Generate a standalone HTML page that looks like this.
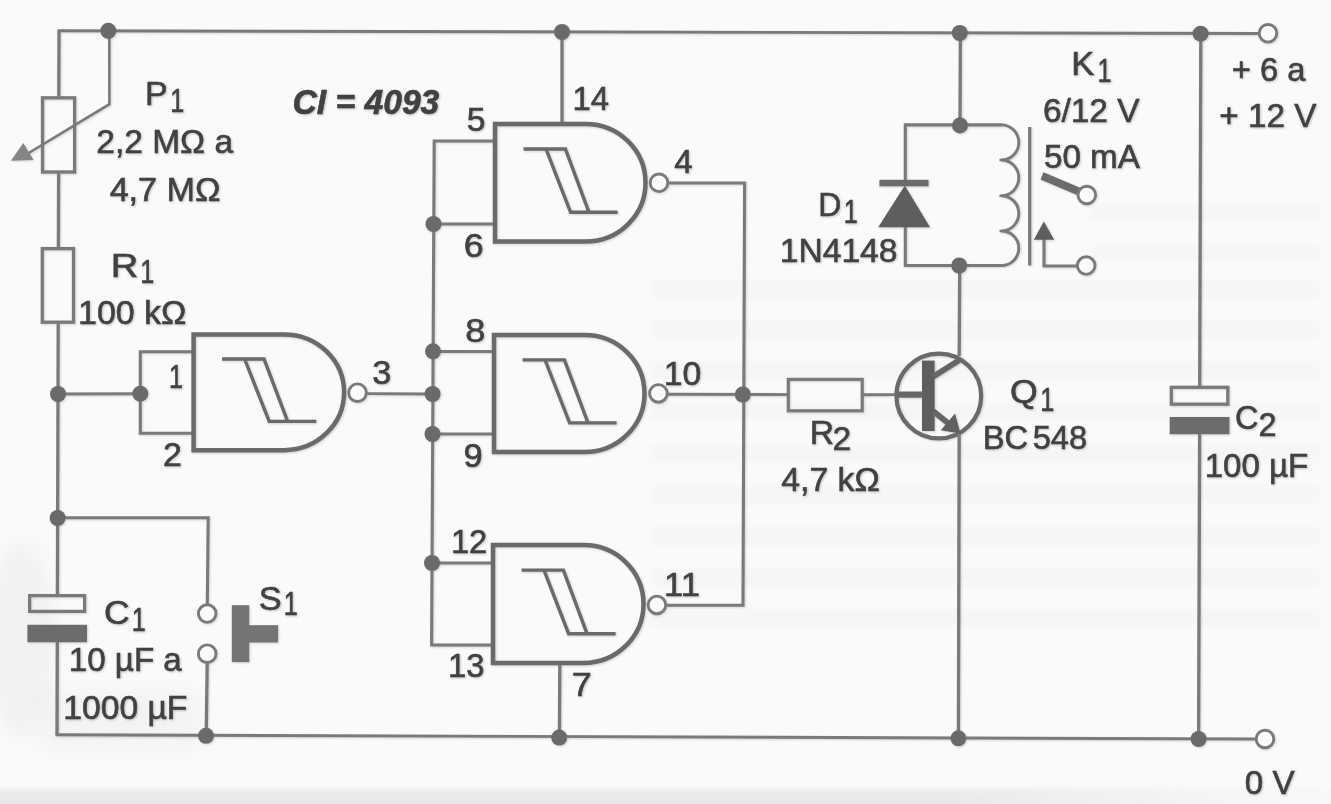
<!DOCTYPE html>
<html lang="pt">
<head>
<meta charset="utf-8">
<title>CI 4093 - Temporizador</title>
<style>
html,body{margin:0;padding:0;background:#fafaf9;}
body{width:1331px;height:804px;overflow:hidden;font-family:"Liberation Sans",sans-serif;}
svg{display:block}
</style>
</head>
<body>
<svg width="1331" height="804" viewBox="0 0 1331 804">
<rect x="0" y="0" width="1331" height="804" fill="#fafaf9"/>
<defs>
<linearGradient id="bs" x1="0" y1="0" x2="0" y2="1"><stop offset="0" stop-color="#ebebea" stop-opacity="0"/><stop offset="0.3" stop-color="#ebebea" stop-opacity="0.9"/><stop offset="1" stop-color="#e8e8e7" stop-opacity="1"/></linearGradient>
<linearGradient id="bf" x1="0" y1="0" x2="1" y2="0"><stop offset="0" stop-color="#fff" stop-opacity="1"/><stop offset="0.72" stop-color="#fff" stop-opacity="1"/><stop offset="0.95" stop-color="#fff" stop-opacity="0.15"/><stop offset="1" stop-color="#fff" stop-opacity="0.1"/></linearGradient>
<mask id="bm"><rect x="0" y="780" width="1331" height="24" fill="url(#bf)"/></mask>
<filter id="bl" x="-5%" y="-50%" width="110%" height="200%"><feGaussianBlur stdDeviation="5 3"/></filter>
<filter id="bl2" x="-50%" y="-20%" width="200%" height="140%"><feGaussianBlur stdDeviation="10"/></filter>
<filter id="sh" x="-2%" y="-2%" width="104%" height="104%"><feGaussianBlur stdDeviation="1.2"/><feOffset dx="0.6" dy="1.0"/></filter>
</defs>
<g fill="#000" opacity="0.014" filter="url(#bl)"><rect x="650" y="280" width="670" height="18"/><rect x="650" y="320" width="670" height="18"/><rect x="650" y="361" width="670" height="18"/><rect x="650" y="402" width="670" height="18"/><rect x="650" y="445" width="670" height="18"/><rect x="650" y="486" width="670" height="18"/><rect x="650" y="527" width="670" height="18"/><rect x="650" y="568" width="670" height="18"/><rect x="650" y="609" width="670" height="18"/><rect x="1090" y="205" width="230" height="16"/><rect x="1090" y="246" width="230" height="16"/></g>
<ellipse cx="22" cy="640" rx="34" ry="100" fill="#000" opacity="0.032" filter="url(#bl2)"/>
<rect x="40" y="690" width="160" height="60" fill="#000" opacity="0.025" filter="url(#bl2)"/>
<rect x="0" y="785" width="1331" height="19" fill="url(#bs)" mask="url(#bm)"/>
<g filter="url(#sh)" opacity="0.30"><use href="#art"/></g>
<g id="art">
<line x1="57.6" y1="30.7" x2="1259.0" y2="33.5" stroke="#7a7a7a" stroke-width="2.9" stroke-linecap="butt"/>
<line x1="55.6" y1="734.8" x2="1256.0" y2="739.0" stroke="#7a7a7a" stroke-width="2.9" stroke-linecap="butt"/>
<line x1="59.0" y1="30.7" x2="58.8" y2="96.5" stroke="#7a7a7a" stroke-width="3.3" stroke-linecap="butt"/>
<line x1="58.6" y1="173.0" x2="58.4" y2="247.5" stroke="#7a7a7a" stroke-width="3.3" stroke-linecap="butt"/>
<line x1="58.2" y1="323.5" x2="57.4" y2="594.5" stroke="#7a7a7a" stroke-width="3.3" stroke-linecap="butt"/>
<line x1="57.3" y1="641.0" x2="57.0" y2="734.8" stroke="#7a7a7a" stroke-width="3.3" stroke-linecap="butt"/>
<rect x="42.5" y="97.8" width="32.1" height="74.2" fill="none" stroke="#7a7a7a" stroke-width="3.3"/>
<rect x="42.3" y="248.6" width="31.2" height="73.6" fill="none" stroke="#7a7a7a" stroke-width="3.3"/>
<polyline points="109.3,30.8 109.4,104.2 27.0,154.0" fill="none" stroke="#7a7a7a" stroke-width="2.6" stroke-linejoin="miter"/>
<polygon points="10.9,160.7 23.3,142.9 33.5,160.0" fill="#858585"/>
<rect x="29.6" y="595.6" width="55.0" height="15.8" fill="none" stroke="#7a7a7a" stroke-width="3.2"/>
<rect x="27.4" y="624.8" width="59.6" height="17.4" fill="#6c6c6c"/>
<line x1="58.0" y1="394.0" x2="140.3" y2="393.7" stroke="#7a7a7a" stroke-width="2.9" stroke-linecap="butt"/>
<polyline points="193.6,351.7 140.3,351.7 140.3,433.3 193.6,433.3" fill="none" stroke="#7a7a7a" stroke-width="3.1" stroke-linejoin="miter"/>
<line x1="366.0" y1="393.6" x2="432.5" y2="394.0" stroke="#7a7a7a" stroke-width="2.9" stroke-linecap="butt"/>
<polyline points="495.0,141.0 434.2,141.0 431.6,645.0 493.0,645.0" fill="none" stroke="#7a7a7a" stroke-width="3.1" stroke-linejoin="miter"/>
<line x1="433.5" y1="224.0" x2="495.0" y2="224.0" stroke="#7a7a7a" stroke-width="2.9" stroke-linecap="butt"/>
<line x1="433.0" y1="351.5" x2="494.0" y2="351.5" stroke="#7a7a7a" stroke-width="2.9" stroke-linecap="butt"/>
<line x1="432.5" y1="434.0" x2="494.0" y2="434.0" stroke="#7a7a7a" stroke-width="2.9" stroke-linecap="butt"/>
<line x1="432.0" y1="563.0" x2="493.0" y2="563.0" stroke="#7a7a7a" stroke-width="2.9" stroke-linecap="butt"/>
<path d="M193.6,334.4 H284.1 A60,57.90 0 0 1 284.1,450.2 H193.6 Z" fill="none" stroke="#6a6a6a" stroke-width="4.5" stroke-linejoin="miter"/>
<path d="M222.1,359.0 L264.0,359.0 L287.6,421.4 M244.6,359.0 L269.2,421.4 L316.2,421.4" fill="none" stroke="#6a6a6a" stroke-width="3.4" stroke-linejoin="miter"/>
<path d="M495.0,124.0 H585.5 A60,58.75 0 0 1 585.5,241.5 H495.0 Z" fill="none" stroke="#6a6a6a" stroke-width="4.5" stroke-linejoin="miter"/>
<path d="M523.5,149.0 L565.4,149.0 L589.0,212.3 M546.0,149.0 L570.6,212.3 L617.6,212.3" fill="none" stroke="#6a6a6a" stroke-width="3.4" stroke-linejoin="miter"/>
<path d="M494.0,335.0 H584.5 A60,58.50 0 0 1 584.5,452.0 H494.0 Z" fill="none" stroke="#6a6a6a" stroke-width="4.5" stroke-linejoin="miter"/>
<path d="M522.5,359.9 L564.4,359.9 L588.0,422.9 M545.0,359.9 L569.6,422.9 L616.6,422.9" fill="none" stroke="#6a6a6a" stroke-width="3.4" stroke-linejoin="miter"/>
<path d="M493.0,545.0 H583.5 A60,59.00 0 0 1 583.5,663.0 H493.0 Z" fill="none" stroke="#6a6a6a" stroke-width="4.5" stroke-linejoin="miter"/>
<path d="M521.5,570.1 L563.4,570.1 L587.0,633.7 M544.0,570.1 L568.6,633.7 L615.6,633.7" fill="none" stroke="#6a6a6a" stroke-width="3.4" stroke-linejoin="miter"/>
<line x1="562.0" y1="31.9" x2="562.0" y2="122.0" stroke="#7a7a7a" stroke-width="3.3" stroke-linecap="butt"/>
<line x1="559.8" y1="665.0" x2="559.4" y2="736.6" stroke="#7a7a7a" stroke-width="3.3" stroke-linecap="butt"/>
<polyline points="668.0,183.0 744.6,183.0 743.0,605.2 667.0,605.2" fill="none" stroke="#7a7a7a" stroke-width="3.1" stroke-linejoin="miter"/>
<line x1="668.0" y1="394.3" x2="788.0" y2="394.6" stroke="#7a7a7a" stroke-width="2.9" stroke-linecap="butt"/>
<line x1="863.0" y1="394.7" x2="896.0" y2="394.6" stroke="#7a7a7a" stroke-width="2.9" stroke-linecap="butt"/>
<circle cx="357.5" cy="392.7" r="8.8" fill="#fafaf9" stroke="#7a7a7a" stroke-width="2.9"/>
<circle cx="659.0" cy="182.8" r="8.8" fill="#fafaf9" stroke="#7a7a7a" stroke-width="2.9"/>
<circle cx="658.4" cy="393.4" r="8.8" fill="#fafaf9" stroke="#7a7a7a" stroke-width="2.9"/>
<circle cx="656.9" cy="604.9" r="8.8" fill="#fafaf9" stroke="#7a7a7a" stroke-width="2.9"/>
<rect x="788.3" y="379.4" width="73.9" height="31.4" fill="none" stroke="#7a7a7a" stroke-width="3.2"/>
<line x1="960.4" y1="32.8" x2="960.0" y2="125.5" stroke="#7a7a7a" stroke-width="3.3" stroke-linecap="butt"/>
<polyline points="1002.0,124.9 905.3,124.9 905.3,181.0" fill="none" stroke="#7a7a7a" stroke-width="3.1" stroke-linejoin="miter"/>
<polyline points="905.3,226.0 905.3,265.5 1002.0,265.5" fill="none" stroke="#7a7a7a" stroke-width="3.1" stroke-linejoin="miter"/>
<rect x="879.4" y="179.8" width="49.1" height="6.5" fill="#6c6c6c"/>
<polygon points="904.8,185.5 878.2,227.2 930.0,227.2" fill="#5e5e5e"/>
<line x1="959.7" y1="265.5" x2="959.2" y2="356.0" stroke="#7a7a7a" stroke-width="3.3" stroke-linecap="butt"/>
<path d="M1001.5,124.9 A17.3,17.55 0 0 1 1001.5,160 A17.3,17.85 0 0 1 1001.5,195.7 A17.3,17.65 0 0 1 1001.5,231 A17.3,17.25 0 0 1 1001.5,265.5" fill="none" stroke="#7a7a7a" stroke-width="2.9"/>
<line x1="999.5" y1="160.0" x2="1006.5" y2="160.0" stroke="#7a7a7a" stroke-width="2.4" stroke-linecap="butt"/>
<line x1="999.5" y1="195.7" x2="1006.5" y2="195.7" stroke="#7a7a7a" stroke-width="2.4" stroke-linecap="butt"/>
<line x1="999.5" y1="231.0" x2="1006.5" y2="231.0" stroke="#7a7a7a" stroke-width="2.4" stroke-linecap="butt"/>
<line x1="1029.7" y1="127.0" x2="1029.7" y2="265.5" stroke="#7a7a7a" stroke-width="3.2" stroke-linecap="butt"/>
<line x1="1042.0" y1="175.8" x2="1081.0" y2="192.3" stroke="#6c6c6c" stroke-width="7.8" stroke-linecap="butt"/>
<circle cx="1086.8" cy="195.0" r="8.8" fill="#fafaf9" stroke="#7a7a7a" stroke-width="2.9"/>
<polyline points="1044.0,238.0 1044.0,266.0 1078.0,266.0" fill="none" stroke="#7a7a7a" stroke-width="3.1" stroke-linejoin="miter"/>
<polygon points="1043.8,221.5 1033.8,239.8 1054.2,239.8" fill="#5e5e5e"/>
<circle cx="1086.2" cy="265.6" r="8.8" fill="#fafaf9" stroke="#7a7a7a" stroke-width="2.9"/>
<circle cx="938.8" cy="396" r="42.4" fill="none" stroke="#6a6a6a" stroke-width="4.2"/>
<rect x="922.0" y="360.6" width="12.6" height="70.4" fill="#5e5e5e"/>
<line x1="896.0" y1="394.6" x2="923.0" y2="394.6" stroke="#666666" stroke-width="6.2" stroke-linecap="butt"/>
<line x1="933.0" y1="376.8" x2="960.0" y2="359.6" stroke="#666666" stroke-width="5.8" stroke-linecap="butt"/>
<line x1="933.0" y1="411.0" x2="951.0" y2="425.5" stroke="#666666" stroke-width="5.8" stroke-linecap="butt"/>
<polygon points="955.0,413.5 940.8,430.2 960.5,433.5" fill="#606060"/>
<line x1="959.2" y1="434.0" x2="958.4" y2="738.0" stroke="#7a7a7a" stroke-width="3.3" stroke-linecap="butt"/>
<line x1="1200.8" y1="33.3" x2="1199.7" y2="386.0" stroke="#7a7a7a" stroke-width="3.3" stroke-linecap="butt"/>
<line x1="1199.6" y1="433.0" x2="1198.6" y2="738.8" stroke="#7a7a7a" stroke-width="3.3" stroke-linecap="butt"/>
<rect x="1171.3" y="387.3" width="56.5" height="16.9" fill="none" stroke="#7a7a7a" stroke-width="3.3"/>
<rect x="1169.7" y="417.0" width="59.7" height="17.2" fill="#6c6c6c"/>
<polyline points="57.6,517.8 208.2,517.8 207.3,605.0" fill="none" stroke="#7a7a7a" stroke-width="3.1" stroke-linejoin="miter"/>
<line x1="207.2" y1="663.0" x2="206.2" y2="735.3" stroke="#7a7a7a" stroke-width="3.3" stroke-linecap="butt"/>
<circle cx="207.2" cy="613.6" r="8.8" fill="#fafaf9" stroke="#7a7a7a" stroke-width="2.9"/>
<circle cx="207.2" cy="653.7" r="8.8" fill="#fafaf9" stroke="#7a7a7a" stroke-width="2.9"/>
<rect x="231.8" y="605.2" width="17.4" height="56.9" fill="#747474"/>
<rect x="249.0" y="625.2" width="29.1" height="17.3" fill="#747474"/>
<circle cx="1268.0" cy="33.3" r="8.8" fill="#fafaf9" stroke="#7a7a7a" stroke-width="2.9"/>
<circle cx="1265.0" cy="739.0" r="8.8" fill="#fafaf9" stroke="#7a7a7a" stroke-width="2.9"/>
<circle cx="108.3" cy="30.8" r="8.0" fill="#6a6a6a"/>
<circle cx="562.0" cy="32.0" r="8.0" fill="#6a6a6a"/>
<circle cx="959.8" cy="33.0" r="8.0" fill="#6a6a6a"/>
<circle cx="1200.6" cy="33.7" r="8.0" fill="#6a6a6a"/>
<circle cx="960.0" cy="125.4" r="8.0" fill="#6a6a6a"/>
<circle cx="959.2" cy="265.5" r="8.0" fill="#6a6a6a"/>
<circle cx="58.0" cy="394.0" r="8.0" fill="#6a6a6a"/>
<circle cx="140.3" cy="393.7" r="8.0" fill="#6a6a6a"/>
<circle cx="57.6" cy="518.0" r="8.0" fill="#6a6a6a"/>
<circle cx="206.0" cy="735.8" r="8.0" fill="#6a6a6a"/>
<circle cx="559.2" cy="737.6" r="8.0" fill="#6a6a6a"/>
<circle cx="958.4" cy="738.3" r="8.0" fill="#6a6a6a"/>
<circle cx="1198.6" cy="739.0" r="8.0" fill="#6a6a6a"/>
<circle cx="433.5" cy="224.0" r="8.0" fill="#6a6a6a"/>
<circle cx="433.0" cy="351.3" r="8.0" fill="#6a6a6a"/>
<circle cx="432.6" cy="394.0" r="8.0" fill="#6a6a6a"/>
<circle cx="432.5" cy="434.0" r="8.0" fill="#6a6a6a"/>
<circle cx="432.0" cy="563.0" r="8.0" fill="#6a6a6a"/>
<circle cx="742.8" cy="394.5" r="8.0" fill="#6a6a6a"/>
<g fill="#404040" stroke="#404040" stroke-width="0.6" opacity="0.995" font-family="'Liberation Sans', sans-serif">
<text transform="translate(145.09,105.40) scale(0.9951,1)" font-size="34.00" xml:space="preserve">P<tspan x="25.29" y="6.90" textLength="14.06" lengthAdjust="spacingAndGlyphs">1</tspan></text>
<text transform="translate(96.33,153.00) scale(0.9853,1)" font-size="34.00" xml:space="preserve">2,2 MΩ a</text>
<text transform="translate(109.65,200.60) scale(1.0035,1)" font-size="34.00" xml:space="preserve">4,7 MΩ</text>
<text transform="translate(110.70,277.00) scale(1.1216,1)" font-size="34.00" xml:space="preserve">R<tspan x="26.31" y="6.00" textLength="12.48" lengthAdjust="spacingAndGlyphs">1</tspan></text>
<text transform="translate(78.02,324.25) scale(0.9988,1)" font-size="34.00" xml:space="preserve">100 kΩ</text>
<text transform="translate(168.96,387.70) scale(0.7400,1)" font-size="34.00" xml:space="preserve">1</text>
<text transform="translate(162.91,466.00) scale(0.9955,1)" font-size="34.00" xml:space="preserve">2</text>
<text transform="translate(372.33,384.00) scale(1.0075,1)" font-size="34.00" xml:space="preserve">3</text>
<text transform="translate(466.65,131.00) scale(0.9907,1)" font-size="34.00" xml:space="preserve">5</text>
<text transform="translate(463.71,257.00) scale(1.0550,1)" font-size="34.00" xml:space="preserve">6</text>
<text transform="translate(572.38,109.80) scale(0.9655,1)" font-size="34.00" xml:space="preserve">14</text>
<text transform="translate(674.17,173.00) scale(0.9706,1)" font-size="34.00" xml:space="preserve">4</text>
<text transform="translate(465.37,342.00) scale(1.0638,1)" font-size="34.00" xml:space="preserve">8</text>
<text transform="translate(463.45,467.00) scale(1.0120,1)" font-size="34.00" xml:space="preserve">9</text>
<text transform="translate(663.79,384.80) scale(0.9934,1)" font-size="34.00" xml:space="preserve">10</text>
<text transform="translate(450.90,552.70) scale(0.9601,1)" font-size="34.00" xml:space="preserve">12</text>
<text transform="translate(447.88,676.60) scale(0.9653,1)" font-size="34.00" xml:space="preserve">13</text>
<text transform="translate(664.02,595.50) scale(1.0148,1)" font-size="34.00" xml:space="preserve">11</text>
<text transform="translate(571.80,696.00) scale(1.0601,1)" font-size="34.00" xml:space="preserve">7</text>
<text transform="translate(104.12,624.40) scale(1.0458,1)" font-size="34.00" xml:space="preserve">C<tspan x="26.43" y="6.90" textLength="13.38" lengthAdjust="spacingAndGlyphs">1</tspan></text>
<text transform="translate(68.85,671.40) scale(0.9742,1)" font-size="34.00" xml:space="preserve">10 µF a</text>
<text transform="translate(63.30,718.80) scale(0.9895,1)" font-size="34.00" xml:space="preserve">1000 µF</text>
<text transform="translate(258.65,609.50) scale(1.0128,1)" font-size="34.00" xml:space="preserve">S<tspan x="24.79" y="5.00" textLength="13.82" lengthAdjust="spacingAndGlyphs">1</tspan></text>
<text transform="translate(818.35,215.70) scale(0.9392,1)" font-size="34.00" xml:space="preserve">D<tspan x="26.95" y="7.20" textLength="14.90" lengthAdjust="spacingAndGlyphs">1</tspan></text>
<text transform="translate(779.81,262.10) scale(0.9877,1)" font-size="34.00" xml:space="preserve">1N4148</text>
<text transform="translate(1071.25,75.00) scale(1.0128,1)" font-size="34.00" xml:space="preserve">K<tspan x="25.98" y="6.70" textLength="13.82" lengthAdjust="spacingAndGlyphs">1</tspan></text>
<text transform="translate(1042.93,121.60) scale(0.9825,1)" font-size="34.00" xml:space="preserve">6/12 V</text>
<text transform="translate(1043.97,167.80) scale(0.9769,1)" font-size="34.00" xml:space="preserve">50 mA</text>
<text transform="translate(1231.87,80.60) scale(0.9612,1)" font-size="34.00" xml:space="preserve">+ 6 a</text>
<text transform="translate(1219.34,126.80) scale(0.9773,1)" font-size="34.00" xml:space="preserve">+ 12 V</text>
<text transform="translate(1009.90,403.00) scale(1.0477,1)" font-size="34.00" xml:space="preserve">Q<tspan x="29.08" y="8.10" textLength="13.36" lengthAdjust="spacingAndGlyphs">1</tspan></text>
<text transform="translate(982.79,449.00) scale(0.9611,1)" font-size="34.00" xml:space="preserve">BC <tspan x="51.89" y="0.00">548</tspan></text>
<text transform="translate(809.72,443.60) scale(0.9870,1)" font-size="34.00" xml:space="preserve">R<tspan x="23.12" y="5.90">2</tspan></text>
<text transform="translate(781.25,491.30) scale(0.9945,1)" font-size="34.00" xml:space="preserve">4,7 kΩ</text>
<text transform="translate(1234.98,429.00) scale(0.9524,1)" font-size="34.00" xml:space="preserve">C<tspan x="24.73" y="7.40">2</tspan></text>
<text transform="translate(1204.66,476.70) scale(0.9725,1)" font-size="34.00" xml:space="preserve">100 µF</text>
<text transform="translate(1244.87,794.00) scale(0.9743,1)" font-size="34.00" xml:space="preserve">0 V</text>
<text transform="translate(292.52,114.40) scale(0.9560,1)" font-size="35.20" style="font-weight:bold;font-style:italic;" xml:space="preserve">CI = 4093</text>
</g>
</g>
</svg>
</body>
</html>
